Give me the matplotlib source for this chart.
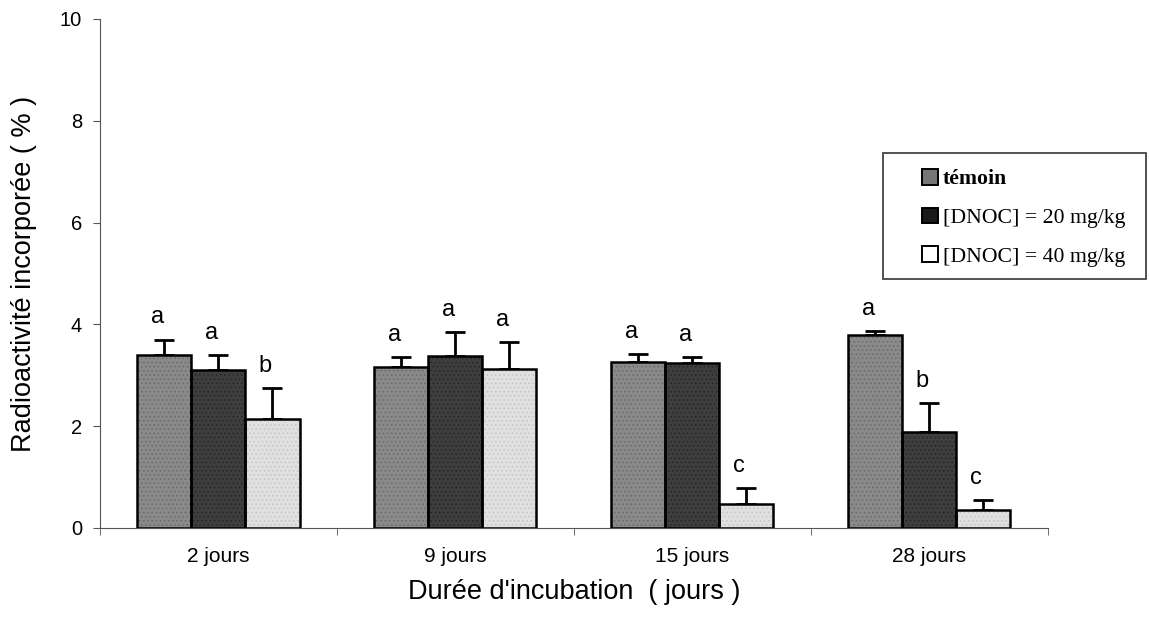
import numpy as np
import matplotlib
matplotlib.use("Agg")
import matplotlib.pyplot as plt
from matplotlib.patches import Rectangle

# data
categories = ["2 jours", "9 jours", "15 jours", "28 jours"]
series_names = ["témoin", "[DNOC] = 20 mg/kg", "[DNOC] = 40 mg/kg"]
temoin = [3.40, 3.17, 3.27, 3.80]
dnoc20 = [3.10, 3.37, 3.25, 1.88]
dnoc40 = [2.15, 3.13, 0.47, 0.35]
temoin_err = [0.30, 0.18, 0.15, 0.07]
dnoc20_err = [0.30, 0.48, 0.10, 0.57]
dnoc40_err = [0.60, 0.52, 0.31, 0.20]
temoin_lbl = ["a", "a", "a", "a"]
dnoc20_lbl = ["a", "a", "a", "b"]
dnoc40_lbl = ["b", "a", "c", "c"]

values = [temoin, dnoc20, dnoc40]
errors = [temoin_err, dnoc20_err, dnoc40_err]
letters = [temoin_lbl, dnoc20_lbl, dnoc40_lbl]
colors = ["#8a8a8a", "#3e3e3e", "#e0e0e0"]
dots = ["#6a6a6a", "#262626", "#c4c4c4"]

plt.rcParams["hatch.linewidth"] = 0.6

fig = plt.figure(figsize=(11.49, 6.33), dpi=100)
ax = fig.add_axes([0.087, 0.166, 0.825, 0.804])

x = np.arange(len(categories)) + 0.5
width = 0.228

for i in range(3):
    pos = x + (i - 1) * width
    # dotted screen texture, then the black outline
    ax.bar(pos, values[i], width, color=colors[i], edgecolor=dots[i],
           linewidth=0, hatch="....", zorder=2)
    ax.bar(pos, values[i], width, color="none", edgecolor="black",
           linewidth=1.8, zorder=3, label=series_names[i])
    ax.errorbar(pos, values[i], yerr=[np.zeros(4), errors[i]], fmt="none",
                ecolor="black", elinewidth=2, capsize=7, capthick=2, zorder=1)
    for p, v, e, t in zip(pos, values[i], errors[i], letters[i]):
        ax.text(p - 0.03, v + e + 0.22, t, ha="center", va="bottom",
                fontsize=17, family="Liberation Sans")

ax.set_xlim(0, 4)
ax.set_ylim(0, 10)
ax.set_yticks([0, 2, 4, 6, 8, 10])
ax.set_xticks(np.arange(0, 5), minor=True)
ax.set_xticks(x)
ax.set_xticklabels(categories, family="Liberation Sans", fontsize=15)
ax.tick_params(axis="x", which="major", length=0, pad=14)
ax.tick_params(axis="x", which="minor", length=5, direction="out", color="#555555")
ax.tick_params(axis="y", labelsize=14.5, length=5, color="#555555", pad=8)
for lab in ax.get_yticklabels():
    lab.set_family("Liberation Sans")

ax.spines["top"].set_visible(False)
ax.spines["right"].set_visible(False)
ax.spines["left"].set_color("#555555")
ax.spines["bottom"].set_color("#555555")

ax.set_ylabel("Radioactivité incorporée ( % )", family="Liberation Sans",
              fontsize=19.5, labelpad=16)
ax.set_xlabel("Durée d'incubation  ( jours )", family="Liberation Sans",
              fontsize=19.5, labelpad=9)

# legend box drawn separately so the padding matches the original
fig.patches.append(Rectangle((0.7685, 0.5592), 0.2289, 0.199,
                             transform=fig.transFigure, fill=False,
                             edgecolor="#444444", linewidth=1.3))
leg = fig.legend(loc="upper left", bbox_to_anchor=(0.8024, 0.733),
                 prop={"family": "Liberation Serif", "size": 15.7},
                 frameon=False, handlelength=0.72, handleheight=0.72,
                 handletextpad=0.25, labelspacing=0.84, borderpad=0,
                 borderaxespad=0)
for h in leg.legend_handles:
    h.set_linewidth(1.4)
    h.set_edgecolor("black")
leg.legend_handles[0].set_facecolor("#777777")
leg.legend_handles[1].set_facecolor("#1a1a1a")
leg.legend_handles[2].set_facecolor("white")
leg.get_texts()[0].set_weight("bold")

fig.savefig("out.png", dpi=100)
